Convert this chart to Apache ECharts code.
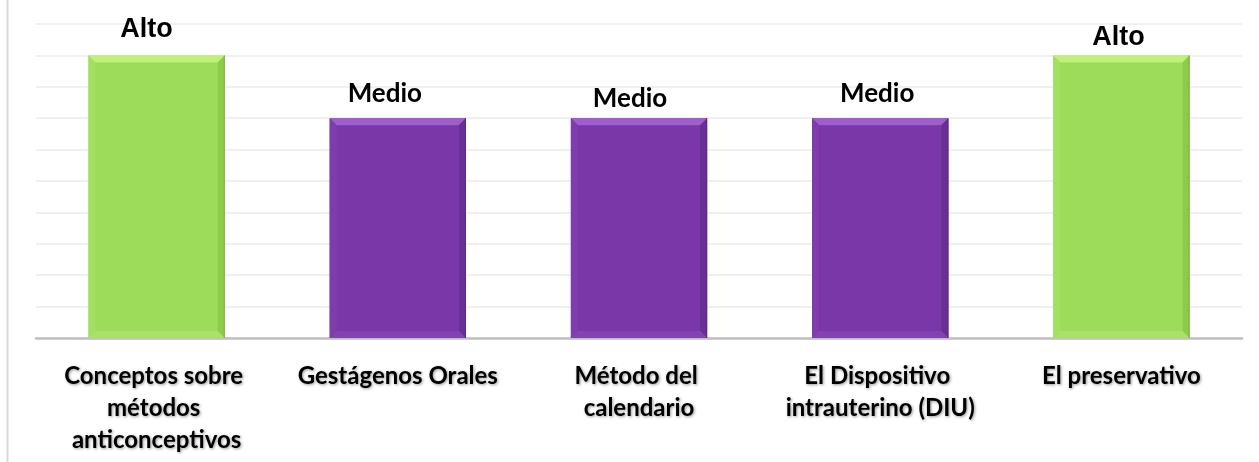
<!DOCTYPE html>
<html>
<head>
<meta charset="utf-8">
<script src="https://cdn.jsdelivr.net/npm/echarts@6/dist/echarts.min.js"></script>
<style>
html,body{margin:0;padding:0;background:#fff;}
#chart{width:1259px;height:462px;}
</style>
</head>
<body>
<div id="chart"></div>
<script>
var categories = ['Conceptos sobre métodos anticonceptivos', 'Gestágenos Orales', 'Método del calendario', 'El Dispositivo intrauterino (DIU)', 'El preservativo'];
var levels = ['Alto', 'Medio', 'Medio', 'Medio', 'Alto'];
var values = [9, 7, 7, 7, 9];
var yTicks = [0, 1, 2, 3, 4, 5, 6, 7, 8, 9, 10];

var palette = {
  Alto:  {base: '#9DDB5A', top: '#BFF07C', left: '#A3DF62', right: '#8DCB4A', bottom: '#A8E368', edge: '#7FAF45'},
  Medio: {base: '#7A37A8', top: '#9E5ECB', left: '#7F3CAD', right: '#6A2F95', bottom: '#8242B1', edge: '#5E2A84'}
};
var labelLift = [12, 12, 7, 12, 4];
var labelShift = [-10, -13, -9, -3, -3];
var labelFont = {Alto: 'bold 27px "Liberation Sans", Arial, sans-serif', Medio: 'bold 26px Lato, sans-serif'};

var chart = echarts.init(document.getElementById('chart'), null, {renderer: 'canvas'});

var barData = values.map(function (v, i) {
  var c = palette[levels[i]];
  return {value: v, itemStyle: {color: c.base}};
});

var option = {
  animation: false,
  grid: {left: 36, right: 17, top: 24, bottom: 124},
  graphic: [{
    type: 'line', shape: {x1: 7.5, y1: 0, x2: 7.5, y2: 462},
    style: {stroke: '#D9D9D9', lineWidth: 2}, z: 0
  }],
  xAxis: {
    type: 'category',
    data: categories,
    axisTick: {show: false},
    axisLine: {lineStyle: {color: '#BFBFBF', width: 2.5}},
    axisLabel: {
      interval: 0,
      margin: 22,
      width: 215,
      overflow: 'break',
      color: '#000',
      fontFamily: 'Lato, sans-serif',
      fontWeight: 'bold',
      fontSize: 24,
      lineHeight: 32,
      align: 'center',
      textShadowColor: 'rgba(0,0,0,0.4)',
      textShadowBlur: 3,
      textShadowOffsetX: 1,
      textShadowOffsetY: 1
    }
  },
  yAxis: {
    type: 'value',
    min: yTicks[0],
    max: yTicks[yTicks.length - 1],
    interval: 1,
    axisLine: {show: false},
    axisTick: {show: false},
    axisLabel: {show: false},
    splitLine: {lineStyle: {color: '#EBEBEB', width: 1.5}}
  },
  series: [{
    type: 'bar',
    data: barData,
    barWidth: '56.5%',
    z: 2
  }, {
    type: 'custom',
    z: 3,
    data: values.map(function (v, i) { return [i, v]; }),
    renderItem: function (params, api) {
      var i = api.value(0);
      var v = api.value(1);
      var p1 = api.coord([i, v]);
      var p0 = api.coord([i, 0]);
      var band = api.size([1, 0])[0];
      var w = band * 0.565;
      var x0 = p1[0] - w / 2, x1 = p1[0] + w / 2;
      var y0 = p1[1], y1 = p0[1];
      var b = 7;
      var lv = levels[i];
      var c = palette[lv];
      return {
        type: 'group',
        children: [
          {type: 'polygon', shape: {points: [[x0, y0], [x1, y0], [x1 - b, y0 + b], [x0 + b, y0 + b]]}, style: {fill: c.top}},
          {type: 'polygon', shape: {points: [[x0, y0], [x0 + b, y0 + b], [x0 + b, y1 - b], [x0, y1]]}, style: {fill: c.left}},
          {type: 'polygon', shape: {points: [[x1, y0], [x1, y1], [x1 - b, y1 - b], [x1 - b, y0 + b]]}, style: {fill: c.right}},
          {type: 'polygon', shape: {points: [[x0, y1], [x0 + b, y1 - b], [x1 - b, y1 - b], [x1, y1]]}, style: {fill: c.bottom}},
          {type: 'line', shape: {x1: x1 - 0.5, y1: y0, x2: x1 - 0.5, y2: y1}, style: {stroke: c.edge, lineWidth: 1}},
          {type: 'text', x: p1[0] + labelShift[i], y: y0 - labelLift[i], style: {
            text: lv, font: labelFont[lv], fill: '#000', align: 'center', verticalAlign: 'bottom'
          }}
        ]
      };
    }
  }]
};
chart.setOption(option);
</script>
</body>
</html>
